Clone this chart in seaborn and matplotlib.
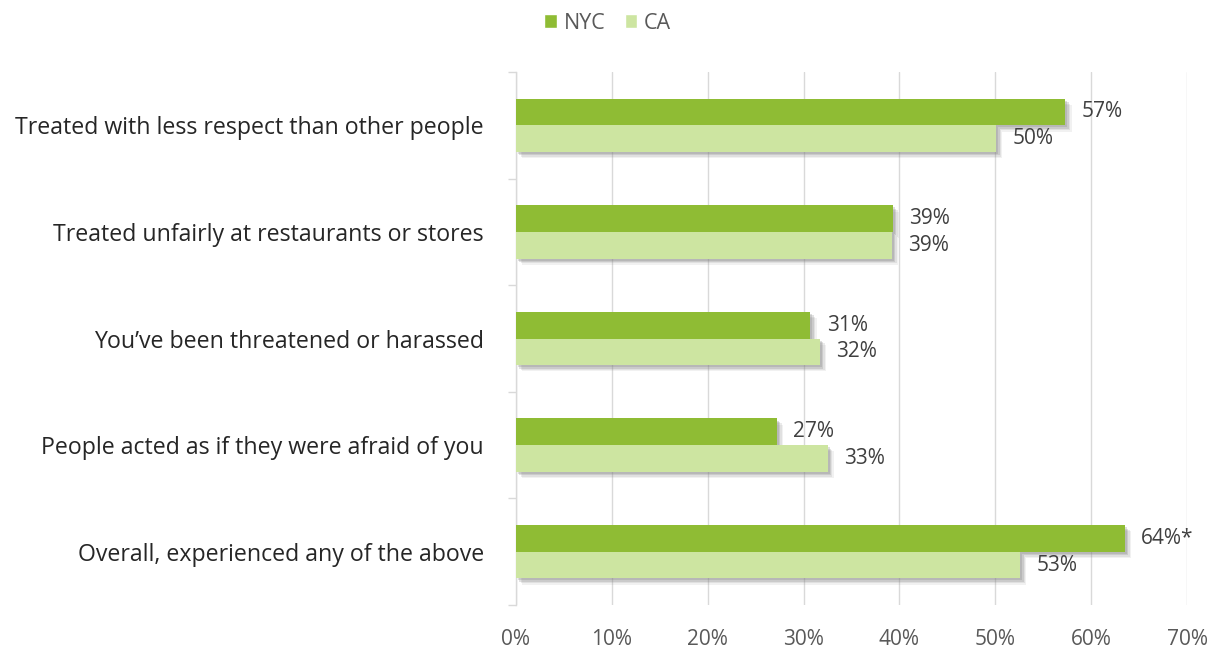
import matplotlib
matplotlib.use("Agg")
import matplotlib.pyplot as plt
import matplotlib.patheffects as pe
from matplotlib.ticker import FuncFormatter, FixedLocator
from matplotlib.patches import Patch
import seaborn as sns
import pandas as pd

categories = [
    "Treated with less respect than other people",
    "Treated unfairly at restaurants or stores",
    "You\u2019ve been threatened or harassed",
    "People acted as if they were afraid of you",
    "Overall, experienced any of the above",
]
nyc = [57.3, 39.3, 30.7, 27.2, 63.5]
ca = [50.1, 39.2, 31.7, 32.5, 52.6]
nyc_labels = ["57%", "39%", "31%", "27%", "64%*"]
ca_labels = ["50%", "39%", "32%", "33%", "53%"]
series = ["NYC", "CA"]
colors = ["#8fbc34", "#cde5a1"]

df = pd.DataFrame({
    "cat": categories * 2,
    "val": nyc + ca,
    "series": ["NYC"] * 5 + ["CA"] * 5,
})

sns.set_theme(style="white")
plt.rcParams["font.family"] = ["Open Sans", "DejaVu Sans"]

fig = plt.figure(figsize=(12.15, 6.48), dpi=100)
ax = fig.add_axes([516 / 1215, 1 - 605 / 648, (1187 - 516) / 1215, (605 - 72) / 648])

sns.barplot(data=df, y="cat", x="val", hue="series", order=categories,
            hue_order=series, palette=colors, orient="h", width=0.5,
            saturation=1, ax=ax, legend=False, zorder=3)

shadow = [
    pe.SimplePatchShadow(offset=(4.5, -4.5), shadow_rgbFace="#7f7f7f", alpha=0.10),
    pe.SimplePatchShadow(offset=(3.5, -3.5), shadow_rgbFace="#7f7f7f", alpha=0.15),
    pe.SimplePatchShadow(offset=(2.5, -2.5), shadow_rgbFace="#7f7f7f", alpha=0.22),
    pe.SimplePatchShadow(offset=(1.5, -1.5), shadow_rgbFace="#7f7f7f", alpha=0.25),
    pe.Normal(),
]
for p in ax.patches:
    p.set_path_effects(shadow)
    p.set_linewidth(0)

for cont, labs in zip(ax.containers, [nyc_labels, ca_labels]):
    ax.bar_label(cont, labels=labs, padding=12, fontsize=15, color="#404040")

ax.set_xlim(0, 70)
ax.set_ylim(4.5, -0.5)
ax.xaxis.set_major_locator(FixedLocator(range(0, 71, 10)))
ax.xaxis.set_major_formatter(FuncFormatter(lambda v, p: f"{int(v)}%"))
ax.grid(axis="x", color="#d9d9d9", linewidth=1, zorder=0)
ax.set_axisbelow(True)
for s in ["top", "right", "bottom"]:
    ax.spines[s].set_visible(False)
ax.spines["left"].set_color("#d9d9d9")
ax.spines["left"].set_linewidth(1)
ax.tick_params(axis="x", length=0, pad=17, labelsize=15, labelcolor="#595959")
ax.tick_params(axis="y", which="major", length=0, pad=23, labelsize=16.7, labelcolor="#262626")
ax.set_yticks([-0.5, 0.5, 1.5, 2.5, 3.5, 4.5], minor=True)
ax.tick_params(axis="y", which="minor", length=6, color="#d9d9d9", width=1, left=True)
ax.set_xlabel("")
ax.set_ylabel("")

handles = [Patch(facecolor=c, label=s) for s, c in zip(series, colors)]
fig.legend(handles=handles, loc="upper center", bbox_to_anchor=(0.5, 1.01), ncol=2,
           frameon=False, fontsize=15.5, handlelength=0.6, handleheight=0.6,
           handletextpad=0.3, columnspacing=0.9, labelcolor="#595959")

fig.savefig("out.png", dpi=100)
